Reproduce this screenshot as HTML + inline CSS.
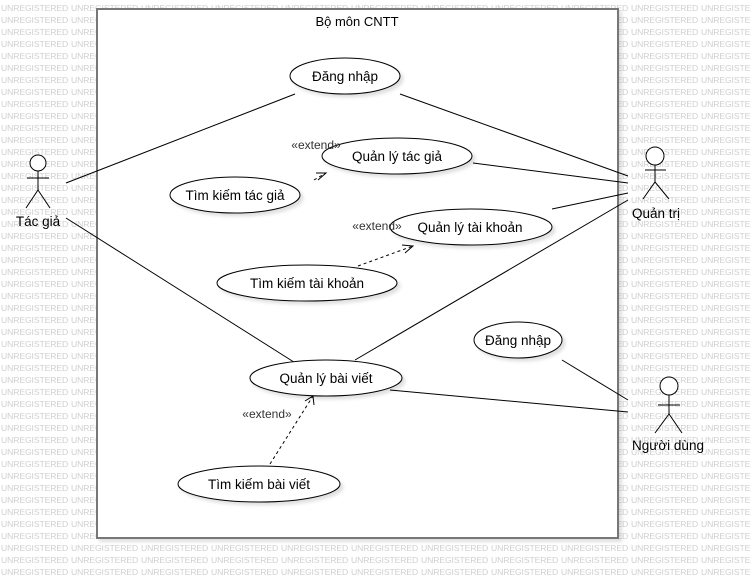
<!DOCTYPE html>
<html><head><meta charset="utf-8"><style>
html,body{margin:0;padding:0;background:#fff;width:751px;height:578px;overflow:hidden;}
#wrap{position:relative;width:751px;height:578px;overflow:hidden;}
#wm{position:absolute;left:1px;top:2px;width:760px;height:576px;overflow:hidden;font-family:"Liberation Sans",sans-serif;font-size:8.6px;color:#cfcfcf;white-space:nowrap;letter-spacing:-0.1px;}
#wm div{height:12px;line-height:12px;overflow:hidden;}
#wm span{display:inline-block;width:70px;overflow:hidden;vertical-align:top;}
svg{position:absolute;left:0;top:0;}
</style></head><body><div id="wrap">
<div id="wm"></div>
<svg width="751" height="578" font-family="Liberation Sans, sans-serif">
<defs><filter id="sh" x="-10%" y="-10%" width="130%" height="140%"><feDropShadow dx="3" dy="3" stdDeviation="1.5" flood-color="#000" flood-opacity="0.12"/></filter></defs>
<rect x="97" y="9" width="521" height="529" fill="#fff" stroke="#777" stroke-width="2" filter="url(#sh)"/>
<text x="357" y="26" font-size="13" text-anchor="middle">Bộ môn CNTT</text>
<g stroke="#000" stroke-width="1" fill="none">
<line x1="66" y1="183" x2="295" y2="94"/>
<line x1="66" y1="218" x2="297" y2="364"/>
<line x1="400" y1="94" x2="628" y2="176"/>
<line x1="473" y1="163" x2="628" y2="183"/>
<line x1="552" y1="209" x2="628" y2="193"/>
<line x1="355" y1="360" x2="628" y2="200"/>
<line x1="562" y1="360" x2="628" y2="400"/>
<line x1="390" y1="390" x2="628" y2="412"/>
<g stroke-dasharray="3,3"><line x1="314" y1="180" x2="326" y2="173"/><line x1="358" y1="266" x2="413" y2="246"/><line x1="270" y1="464" x2="313" y2="396"/></g>
<polyline points="316,173 326,173 318,180"/>
<polyline points="402,245 413,246 405,253"/>
<polyline points="305,401 313,396 314,405"/>
</g>
<g fill="#fff" stroke="#000" filter="url(#sh)">
<ellipse cx="345" cy="76" rx="55" ry="18"/>
<ellipse cx="397" cy="156" rx="75" ry="18"/>
<ellipse cx="235" cy="195" rx="65" ry="18"/>
<ellipse cx="471" cy="227" rx="81" ry="18"/>
<ellipse cx="307" cy="283" rx="90" ry="18"/>
<ellipse cx="326" cy="378" rx="76" ry="18"/>
<ellipse cx="259" cy="484" rx="81" ry="18"/>
<ellipse cx="518" cy="340" rx="44" ry="18"/>
</g>
<g font-size="13.5" text-anchor="middle">
<text x="345" y="81">Đăng nhập</text>
<text x="397" y="161">Quản lý tác giả</text>
<text x="235" y="200">Tìm kiếm tác giả</text>
<text x="470" y="232">Quản lý tài khoản</text>
<text x="307" y="288">Tìm kiếm tài khoản</text>
<text x="326" y="383">Quản lý bài viết</text>
<text x="259" y="489">Tìm kiếm bài viết</text>
<text x="518" y="345">Đăng nhập</text>
</g>
<g font-size="12" fill="#333" text-anchor="middle">
<text x="316" y="149">«extend»</text>
<text x="377" y="230">«extend»</text>
<text x="267" y="418">«extend»</text>
</g>
<g stroke="#000" fill="none">
<circle cx="38" cy="163" r="8" fill="#fff"/><line x1="38" y1="171" x2="38" y2="190"/><line x1="27" y1="178" x2="49" y2="178"/><polyline points="26,208 38,190 50,208"/>
<circle cx="655" cy="156" r="9" fill="#fff"/><line x1="655" y1="165" x2="655" y2="182"/><line x1="645" y1="170" x2="666" y2="170"/><polyline points="643,199 655,182 669,199"/>
<circle cx="669" cy="386" r="9" fill="#fff"/><line x1="669" y1="395" x2="669" y2="414"/><line x1="658" y1="405" x2="680" y2="405"/><polyline points="655,433 669,414 682,433"/>
</g>
<g font-size="13.5" text-anchor="middle">
<text x="38" y="226">Tác giả</text>
<text x="656" y="218">Quản trị</text>
<text x="668" y="450">Người dùng</text>
</g>
</svg>
</div>
<script>
var w=document.getElementById('wm'),h='';
for(var r=0;r<48;r++){h+='<div>';for(var c=0;c<11;c++)h+='<span>UNREGISTERED</span>';h+='</div>';}
w.innerHTML=h;
</script>
</body></html>
